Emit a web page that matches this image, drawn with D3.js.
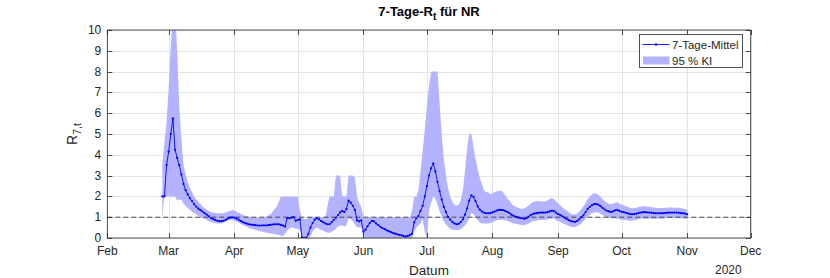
<!DOCTYPE html>
<html>
<head>
<meta charset="utf-8">
<script src="https://cdn.jsdelivr.net/npm/d3@7"></script>
<style>
  html, body { margin: 0; padding: 0; background: #fff; }
  svg { display: block; font-family: "Liberation Sans", Arial, Helvetica, sans-serif; }
</style>
</head>
<body>
<div id="chart"></div>
<script>
// daily values, first entry = 27 Feb 2020
const firstDay = [2020, 1, 27];

const meanValues = [
    2.0, 2.0, 3.5, 4.15, 5.0, 5.75, 4.25, 3.85, 3.5, 3.05,
    2.6, 2.3, 2.1, 1.92, 1.78, 1.63, 1.51, 1.41, 1.34, 1.27,
    1.19, 1.12, 1.04, 0.96, 0.91, 0.87, 0.83, 0.81, 0.81, 0.83,
    0.88, 0.94, 0.98, 0.99, 0.98, 0.94, 0.88, 0.82, 0.76, 0.72,
    0.69, 0.66, 0.64, 0.63, 0.62, 0.6, 0.6, 0.6, 0.61, 0.6,
    0.62, 0.63, 0.65, 0.66, 0.66, 0.66, 0.63, 0.6, 0.55, 0.95,
    0.95, 0.98, 1.0, 0.83, 0.87, 0.9, 0.03, 0.0, 0.02, 0.2,
    0.5, 0.72, 0.88, 0.95, 0.9, 0.82, 0.76, 0.7, 0.66, 0.66,
    0.76, 0.86, 0.97, 1.1, 1.23, 1.3, 1.25, 1.4, 1.8, 1.7,
    1.55, 1.35, 0.85, 0.8, 0.85, 0.3, 0.4, 0.57, 0.72, 0.82,
    0.8, 0.7, 0.62, 0.54, 0.48, 0.43, 0.37, 0.33, 0.28, 0.24,
    0.21, 0.18, 0.15, 0.13, 0.1, 0.07, 0.1, 0.15, 0.2, 0.75,
    0.95, 1.05, 1.3, 1.55, 2.0, 2.5, 3.0, 3.35, 3.59, 3.2,
    2.7, 2.25, 1.85, 1.5, 1.25, 1.02, 0.88, 0.78, 0.7, 0.66,
    0.68, 0.76, 0.9, 1.12, 1.42, 1.8, 2.05, 1.98, 1.77, 1.52,
    1.36, 1.27, 1.22, 1.19, 1.19, 1.2, 1.23, 1.27, 1.32, 1.35,
    1.35, 1.34, 1.3, 1.26, 1.2, 1.12, 1.06, 1.02, 0.99, 0.96,
    0.95, 0.92, 0.95, 1.02, 1.1, 1.15, 1.18, 1.2, 1.22, 1.22,
    1.22, 1.22, 1.24, 1.28, 1.31, 1.29, 1.22, 1.15, 1.1, 1.04,
    0.98, 0.92, 0.86, 0.81, 0.79, 0.78, 0.82, 0.9, 1.0, 1.1,
    1.25, 1.4, 1.5, 1.58, 1.63, 1.63, 1.6, 1.53, 1.45, 1.37,
    1.31, 1.28, 1.25, 1.28, 1.33, 1.35, 1.3, 1.26, 1.24, 1.21,
    1.18, 1.15, 1.14, 1.15, 1.17, 1.2, 1.22, 1.24, 1.24, 1.23,
    1.22, 1.22, 1.2, 1.19, 1.19, 1.19, 1.19, 1.2, 1.21, 1.22,
    1.22, 1.22, 1.22, 1.22, 1.21, 1.2, 1.19, 1.17, 1.14
];

const lowerValues = [
    1.0, 2.0, 2.0, 2.0, 2.0, 2.0, 2.0, 1.8, 1.85, 1.85,
    1.65, 1.55, 1.45, 1.36, 1.28, 1.2, 1.13, 1.07, 1.01, 0.96,
    0.91, 0.86, 0.81, 0.77, 0.74, 0.71, 0.7, 0.7, 0.7, 0.73,
    0.78, 0.84, 0.87, 0.86, 0.83, 0.79, 0.74, 0.68, 0.63, 0.58,
    0.53, 0.48, 0.45, 0.42, 0.39, 0.36, 0.33, 0.31, 0.29, 0.26,
    0.24, 0.22, 0.2, 0.18, 0.17, 0.14, 0.11, 0.1, 0.2, 0.35,
    0.45, 0.5, 0.5, 0.45, 0.45, 0.4, 0, 0, 0, 0,
    0.1, 0.3, 0.45, 0.5, 0.45, 0.4, 0.35, 0.3, 0.25, 0.25,
    0.3, 0.35, 0.45, 0.55, 0.6, 0.6, 0.55, 0.6, 0.95, 0.9,
    0.8, 0.65, 0.5, 0.5, 0.5, 0, 0, 0, 0, 0,
    0, 0, 0, 0, 0, 0, 0, 0, 0, 0,
    0, 0, 0, 0, 0, 0, 0, 0, 0, 0.3,
    0.5, 0.6, 0.7, 0.9, 0.3, 0, 1.3, 1.7, 2.0, 1.9,
    1.6, 1.3, 1.0, 0.8, 0.65, 0.55, 0.45, 0.4, 0.38, 0.37,
    0.38, 0.42, 0.5, 0.6, 0.75, 0.95, 1.2, 1.15, 1.0, 0.85,
    0.75, 0.7, 0.7, 0.7, 0.7, 0.72, 0.75, 0.8, 0.85, 0.88,
    0.88, 0.87, 0.85, 0.82, 0.78, 0.73, 0.7, 0.68, 0.66, 0.64,
    0.63, 0.62, 0.65, 0.7, 0.75, 0.8, 0.82, 0.84, 0.86, 0.86,
    0.87, 0.87, 0.89, 0.92, 0.95, 0.93, 0.87, 0.82, 0.77, 0.72,
    0.67, 0.62, 0.58, 0.55, 0.53, 0.53, 0.56, 0.63, 0.71, 0.8,
    0.92, 1.04, 1.12, 1.19, 1.24, 1.24, 1.22, 1.16, 1.1, 1.04,
    0.99, 0.97, 0.95, 0.95, 0.94, 0.92, 0.9, 0.87, 0.86, 0.85,
    0.84, 0.83, 0.83, 0.85, 0.87, 0.9, 0.92, 0.93, 0.93, 0.93,
    0.93, 0.93, 0.92, 0.92, 0.92, 0.92, 0.93, 0.94, 0.95, 0.96,
    0.96, 0.96, 0.96, 0.96, 0.95, 0.95, 0.94, 0.93, 0.92
];

const upperValues = [
    3.5, 4.6, 5.6, 7.2, 9.2, 11, 11, 9.0, 6.3, 4.8,
    3.5, 3.05, 2.7, 2.42, 2.2, 2.0, 1.86, 1.74, 1.63, 1.53,
    1.44, 1.37, 1.3, 1.25, 1.22, 1.2, 1.19, 1.19, 1.19, 1.2,
    1.23, 1.27, 1.3, 1.34, 1.33, 1.27, 1.21, 1.16, 1.11, 1.08,
    1.05, 1.03, 1.01, 0.99, 0.98, 0.98, 0.98, 0.98, 0.99, 1.03,
    1.08, 1.13, 1.25, 1.38, 1.5, 1.72, 2.0, 2.0, 2.0, 2.0,
    2.0, 2.0, 2.0, 2.0, 2.0, 1.3, 1.0, 0.9, 0.9, 1.0,
    1.0, 1.0, 1.0, 1.0, 1.0, 1.0, 1.0, 1.0, 1.5, 2.0,
    2.0, 2.0, 3.0, 3.0, 3.0, 2.0, 2.0, 2.0, 3.0, 3.0,
    3.0, 2.9, 2.0, 1.7, 1.5, 1.0, 1.0, 1.0, 1.0, 1.0,
    1.0, 1.0, 1.0, 1.0, 1.0, 1.0, 1.0, 1.0, 1.0, 1.0,
    1.0, 1.0, 1.0, 1.0, 1.0, 1.0, 1.0, 1.0, 1.3, 2.0,
    2.0, 2.3, 3.2, 4.2, 5.2, 6.3, 7.3, 8.0, 8.0, 8.0,
    8.0, 6.5, 5.0, 3.8, 3.0, 2.4, 2.0, 1.75, 1.6, 1.55,
    1.6, 1.8, 2.3, 3.2, 4.3, 5.0, 5.0, 4.4, 3.8, 3.3,
    2.9, 2.6, 2.3, 2.2, 2.2, 2.1, 2.15, 2.2, 2.25, 2.25,
    2.3, 2.2, 2.05, 1.9, 1.8, 1.65, 1.55, 1.5, 1.45, 1.42,
    1.4, 1.42, 1.48, 1.55, 1.65, 1.72, 1.75, 1.77, 1.78, 1.76,
    1.75, 1.76, 1.8, 1.88, 1.92, 1.88, 1.78, 1.66, 1.57, 1.48,
    1.4, 1.32, 1.24, 1.17, 1.14, 1.13, 1.18, 1.28, 1.4, 1.52,
    1.7, 1.88, 2.0, 2.1, 2.15, 2.14, 2.08, 1.98, 1.88, 1.78,
    1.7, 1.65, 1.62, 1.65, 1.7, 1.72, 1.66, 1.61, 1.57, 1.53,
    1.49, 1.45, 1.43, 1.44, 1.46, 1.49, 1.52, 1.53, 1.53, 1.52,
    1.5, 1.49, 1.47, 1.45, 1.44, 1.44, 1.44, 1.45, 1.46, 1.47,
    1.47, 1.47, 1.46, 1.46, 1.45, 1.44, 1.42, 1.4, 1.36
];

const monthLabels = ["Feb", "Mar", "Apr", "May", "Jun", "Jul", "Aug", "Sep", "Oct", "Nov", "Dec"];
const yTicks = [0, 1, 2, 3, 4, 5, 6, 7, 8, 9, 10];
const refLevel = 1;
const legendLabels = ["7-Tage-Mittel", "95 % KI"];
const yearLabel = "2020";

const width = 830;
const height = 278;
const margin = { top: 30, right: 79.3, bottom: 40, left: 107.3 };
const textColor = "#262626";
const lineColor = "#0000ff";
const bandColor = "#b3b3ff";

const data = meanValues.map((v, i) => ({
    date: new Date(Date.UTC(firstDay[0], firstDay[1], firstDay[2] + i)),
    mean: v,
    lo: lowerValues[i],
    hi: upperValues[i]
}));

const x = d3.scaleUtc()
    .domain([new Date(Date.UTC(2020, 1, 1)), new Date(Date.UTC(2020, 11, 1))])
    .range([margin.left, width - margin.right]);

const y = d3.scaleLinear()
    .domain([0, 10])
    .range([height - margin.bottom, margin.top]);

const monthTicks = d3.utcMonth.range(x.domain()[0], d3.utcDay.offset(x.domain()[1], 1));

const svg = d3.select("#chart").append("svg")
    .attr("width", width)
    .attr("height", height);

svg.append("defs").append("clipPath")
    .attr("id", "plot-clip")
    .append("rect")
    .attr("x", x.range()[0])
    .attr("y", y(10))
    .attr("width", x.range()[1] - x.range()[0])
    .attr("height", y(0) - y(10));

// grid
const grid = svg.append("g").attr("stroke", "#e4e4e4").attr("stroke-width", 1);
grid.selectAll("line.gx")
    .data(monthTicks)
    .enter().append("line")
    .attr("x1", d => Math.round(x(d)) + 0.5)
    .attr("x2", d => Math.round(x(d)) + 0.5)
    .attr("y1", y(0))
    .attr("y2", y(10));
grid.selectAll("line.gy")
    .data(yTicks)
    .enter().append("line")
    .attr("x1", x.range()[0])
    .attr("x2", x.range()[1])
    .attr("y1", d => Math.round(y(d)) + 0.5)
    .attr("y2", d => Math.round(y(d)) + 0.5);

const plot = svg.append("g").attr("clip-path", "url(#plot-clip)");

const band = d3.area()
    .x(d => x(d.date))
    .y0(d => y(d.lo))
    .y1(d => y(d.hi));

plot.append("path")
    .datum(data)
    .attr("fill", bandColor)
    .attr("d", band);

plot.append("line")
    .attr("x1", x.range()[0])
    .attr("x2", x.range()[1])
    .attr("y1", y(refLevel))
    .attr("y2", y(refLevel))
    .attr("stroke", "#3c3c3c")
    .attr("stroke-width", 0.9)
    .attr("stroke-dasharray", "5,3");

const meanLine = d3.line()
    .x(d => x(d.date))
    .y(d => y(d.mean));

plot.append("path")
    .datum(data)
    .attr("fill", "none")
    .attr("stroke", lineColor)
    .attr("stroke-width", 0.9)
    .attr("stroke-linejoin", "round")
    .attr("d", meanLine);

plot.selectAll("circle.pt")
    .data(data)
    .enter().append("circle")
    .attr("cx", d => x(d.date))
    .attr("cy", d => y(d.mean))
    .attr("r", 1.1)
    .attr("fill", lineColor);

// axes box
svg.append("rect")
    .attr("x", x.range()[0])
    .attr("y", y(10))
    .attr("width", x.range()[1] - x.range()[0])
    .attr("height", y(0) - y(10))
    .attr("fill", "none")
    .attr("stroke", textColor)
    .attr("stroke-width", 0.8);

const tickLen = 5;
const ticks = svg.append("g").attr("stroke", textColor).attr("stroke-width", 0.8);
monthTicks.forEach(d => {
    const px = Math.round(x(d)) + 0.5;
    ticks.append("line").attr("x1", px).attr("x2", px).attr("y1", y(0)).attr("y2", y(0) - tickLen);
    ticks.append("line").attr("x1", px).attr("x2", px).attr("y1", y(10)).attr("y2", y(10) + tickLen);
});
yTicks.forEach(d => {
    const py = Math.round(y(d)) + 0.5;
    ticks.append("line").attr("x1", x.range()[0]).attr("x2", x.range()[0] + tickLen).attr("y1", py).attr("y2", py);
    ticks.append("line").attr("x1", x.range()[1]).attr("x2", x.range()[1] - tickLen).attr("y1", py).attr("y2", py);
});

svg.append("g")
    .selectAll("text")
    .data(monthTicks)
    .enter().append("text")
    .attr("x", d => x(d))
    .attr("y", y(0) + 17)
    .attr("text-anchor", "middle")
    .attr("font-size", "12px")
    .attr("fill", textColor)
    .text((d, i) => monthLabels[i]);

svg.append("g")
    .selectAll("text")
    .data(yTicks)
    .enter().append("text")
    .attr("x", x.range()[0] - 6)
    .attr("y", d => y(d) + 4)
    .attr("text-anchor", "end")
    .attr("font-size", "12px")
    .attr("fill", textColor)
    .text(d => d);

svg.append("text")
    .attr("x", x.range()[1] - 9)
    .attr("y", height - 4)
    .attr("text-anchor", "end")
    .attr("font-size", "12px")
    .attr("fill", textColor)
    .text(yearLabel);

svg.append("text")
    .attr("x", (x.range()[0] + x.range()[1]) / 2)
    .attr("y", height - 3)
    .attr("text-anchor", "middle")
    .attr("font-size", "13.5px")
    .attr("fill", textColor)
    .text("Datum");

const yLab = svg.append("text")
    .attr("transform", `translate(77, ${(y(0) + y(10)) / 2}) rotate(-90)`)
    .attr("text-anchor", "middle")
    .attr("font-size", "14px")
    .attr("fill", textColor);
yLab.append("tspan").text("R");
yLab.append("tspan").attr("font-size", "10.5px").attr("dy", 4).text("7,t");

const title = svg.append("text")
    .attr("x", (x.range()[0] + x.range()[1]) / 2)
    .attr("y", 16)
    .attr("text-anchor", "middle")
    .attr("font-size", "13px")
    .attr("font-weight", "bold")
    .attr("fill", "#000");
title.append("tspan").text("7-Tage-R");
title.append("tspan").attr("font-size", "10px").attr("dy", 4).text("t");
title.append("tspan").attr("dy", -4).text(" für NR");

// legend
const legend = svg.append("g").attr("transform", "translate(639.5, 34.5)");
legend.append("rect")
    .attr("width", 103)
    .attr("height", 33)
    .attr("fill", "#fff")
    .attr("stroke", textColor)
    .attr("stroke-width", 0.8);
legend.append("line")
    .attr("x1", 3).attr("x2", 30)
    .attr("y1", 10).attr("y2", 10)
    .attr("stroke", lineColor)
    .attr("stroke-width", 0.9);
legend.append("circle")
    .attr("cx", 16.5).attr("cy", 10).attr("r", 1.3)
    .attr("fill", lineColor);
legend.append("rect")
    .attr("x", 3.5).attr("y", 22)
    .attr("width", 26.5).attr("height", 8)
    .attr("fill", bandColor);
legend.selectAll("text.lab")
    .data(legendLabels)
    .enter().append("text")
    .attr("x", 32.5)
    .attr("y", (d, i) => 14 + i * 16.5)
    .attr("font-size", "11.5px")
    .attr("fill", textColor)
    .text(d => d);
</script>
</body>
</html>
